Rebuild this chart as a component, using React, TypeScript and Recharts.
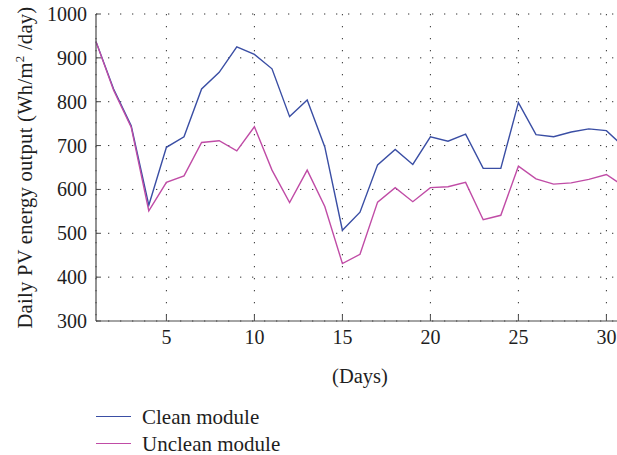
import {LineChart, Line, XAxis, YAxis, CartesianGrid} from "recharts";

const days = [1, 2, 3, 4, 5, 6, 7, 8, 9, 10, 11, 12, 13, 14, 15, 16, 17, 18, 19, 20, 21, 22, 23, 24, 25, 26, 27, 28, 29, 30, 31];
const clean = [937, 829, 745, 564, 696, 720, 829, 867, 925, 908, 875, 766, 804, 697, 507, 548, 656, 691, 657, 720, 710, 726, 648, 648, 798, 725, 720, 731, 738, 734, 697];
const unclean = [937, 826, 742, 551, 616, 631, 707, 711, 688, 743, 644, 570, 644, 561, 431, 452, 571, 604, 572, 604, 606, 616, 531, 541, 653, 624, 612, 615, 623, 634, 607];
const xTicks = [5, 10, 15, 20, 25, 30];
const yTicks = [300, 400, 500, 600, 700, 800, 900, 1000];

const data = days.map((d, i) => ({day: d, clean: clean[i], unclean: unclean[i]}));

const FONT = "'Liberation Serif', 'DejaVu Serif', serif";
const BLUE = "#3a4ea4";
const PINK = "#c04ca6";
const FRAME = "#4a4a4a";
const TEXT = "#1e1e1e";

function BottomTick(props: any) {
  const {x, y, payload} = props;
  return (
    <g>
      <line x1={x} y1={y} x2={x} y2={y - 6} stroke={FRAME} strokeWidth={1} />
      <text x={x} y={y + 23} textAnchor="middle" fontFamily={FONT} fontSize={20} fill={TEXT}>
        {payload.value}
      </text>
    </g>
  );
}

function TopTick(props: any) {
  const {x, y} = props;
  return <line x1={x} y1={y} x2={x} y2={y + 6} stroke={FRAME} strokeWidth={1} />;
}

function LeftTick(props: any) {
  const {x, y, payload} = props;
  return (
    <g>
      <line x1={x} y1={y} x2={x + 5} y2={y} stroke={FRAME} strokeWidth={1} />
      <text x={x - 9} y={y} dy="0.35em" textAnchor="end" fontFamily={FONT} fontSize={20} fill={TEXT}>
        {payload.value}
      </text>
    </g>
  );
}

function YLabel(props: any) {
  const {viewBox} = props;
  const cy = viewBox.y + viewBox.height / 2;
  return (
    <text
      transform={`translate(32, ${cy}) rotate(-90)`}
      textAnchor="middle"
      fontFamily={FONT}
      fontSize={20.5}
      letterSpacing={0.3}
      fill={TEXT}
    >
      Daily PV energy output (Wh/m
      <tspan dy={-8} fontSize={13}>2</tspan>
      <tspan dy={8}> /day)</tspan>
    </text>
  );
}

function LegendBox() {
  const items = [
    {label: "Clean module", color: BLUE},
    {label: "Unclean module", color: PINK},
  ];
  return (
    <div style={{position: "absolute", left: 96, top: 403, fontFamily: FONT, fontSize: 21, color: TEXT}}>
      {items.map((it) => (
        <div key={it.label} style={{display: "flex", alignItems: "center", height: 27}}>
          <div style={{width: 35, height: 0, borderTop: `1.5px solid ${it.color}`, marginRight: 11}} />
          <span style={{lineHeight: "20px"}}>{it.label}</span>
        </div>
      ))}
    </div>
  );
}

export default function App() {
  return (
    <div style={{position: "absolute", left: 0, top: 0, width: 617, height: 455, overflow: "hidden", background: "#fff"}}>
      <LineChart width={640} height={455} data={data} margin={{top: 14, right: 16, left: 0, bottom: 72}}>
        <CartesianGrid stroke="#333" strokeDasharray="1.3 10.7" />
        <XAxis
          dataKey="day"
          type="number"
          domain={[1, 31]}
          ticks={xTicks}
          interval={0}
          tickSize={0}
          tickMargin={0}
          height={62}
          axisLine={{stroke: FRAME, strokeWidth: 1.2}}
          tickLine={false}
          tick={<BottomTick />}
          label={{value: "(Days)", position: "insideBottom", offset: 0, fontFamily: FONT, fontSize: 20.5, fill: TEXT}}
        />
        <XAxis
          xAxisId="top"
          orientation="top"
          dataKey="day"
          type="number"
          domain={[1, 31]}
          ticks={xTicks}
          interval={0}
          tickSize={0}
          tickMargin={0}
          height={0}
          axisLine={{stroke: FRAME, strokeWidth: 1.2}}
          tickLine={false}
          tick={<TopTick />}
        />
        <YAxis
          domain={[300, 1000]}
          ticks={yTicks}
          interval={0}
          width={96}
          tickSize={0}
          tickMargin={0}
          axisLine={{stroke: FRAME, strokeWidth: 1.2}}
          tickLine={false}
          tick={<LeftTick />}
          label={<YLabel />}
        />
        <Line dataKey="clean" name="Clean module" stroke={BLUE} strokeWidth={1.4} dot={false} isAnimationActive={false} />
        <Line dataKey="unclean" name="Unclean module" stroke={PINK} strokeWidth={1.4} dot={false} isAnimationActive={false} />
      </LineChart>
      <LegendBox />
    </div>
  );
}
